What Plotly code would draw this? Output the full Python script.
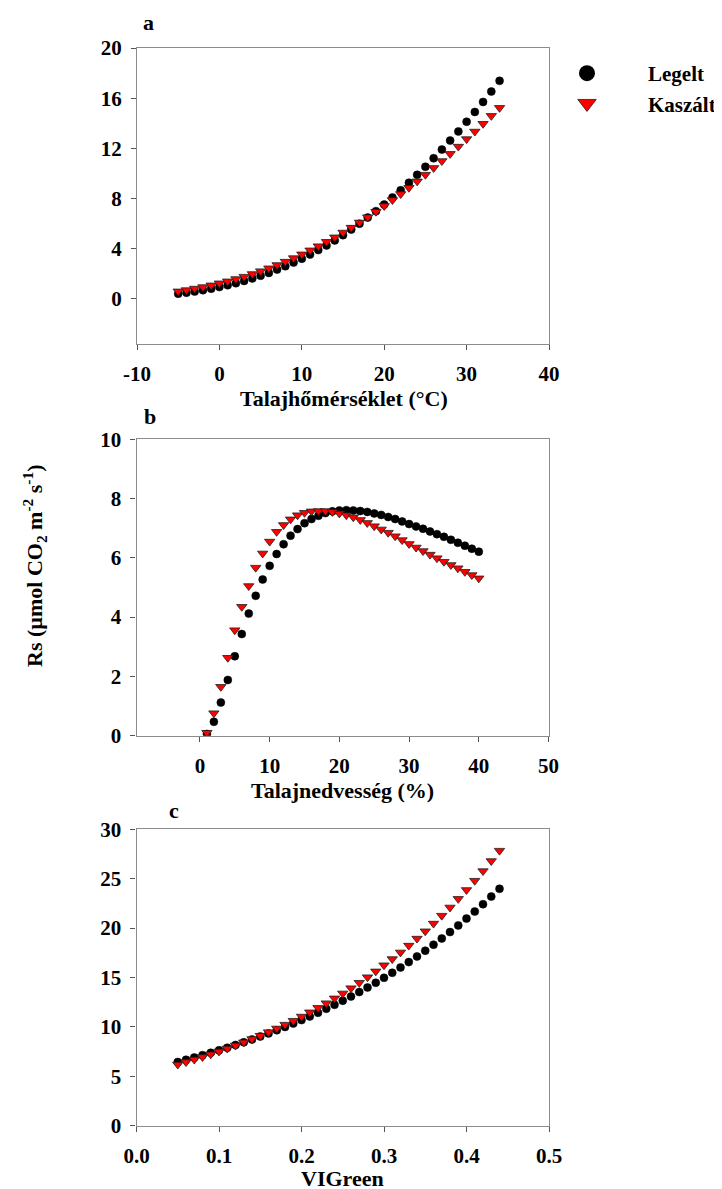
import plotly.graph_objects as go

# ---------------- data ----------------
temp_x = list(range(-5, 35))
temp_legelt = [0.41, 0.49, 0.58, 0.69, 0.81, 0.94, 1.09, 1.25, 1.43, 1.63,
               1.84, 2.07, 2.33, 2.60, 2.89, 3.20, 3.53, 3.89, 4.26, 4.66,
               5.08, 5.52, 5.99, 6.48, 6.99, 7.52, 8.08, 8.66, 9.26, 9.89,
               10.53, 11.21, 11.90, 12.62, 13.35, 14.12, 14.90, 15.70, 16.53, 17.38]
temp_kaszalt = [0.60, 0.70, 0.82, 0.94, 1.08, 1.24, 1.40, 1.58, 1.77, 1.98,
                2.21, 2.44, 2.70, 2.97, 3.25, 3.55, 3.87, 4.20, 4.55, 4.91,
                5.29, 5.68, 6.09, 6.51, 6.95, 7.41, 7.88, 8.36, 8.86, 9.37,
                9.90, 10.44, 10.99, 11.56, 12.14, 12.74, 13.34, 13.96, 14.59, 15.23]

moist_x = list(range(1, 41))
moist_legelt = [0.06, 0.47, 1.12, 1.88, 2.68, 3.43, 4.12, 4.72, 5.27, 5.73,
                6.13, 6.46, 6.75, 6.97, 7.17, 7.31, 7.42, 7.51, 7.57, 7.60,
                7.61, 7.60, 7.58, 7.55, 7.50, 7.45, 7.38, 7.31, 7.23, 7.14,
                7.06, 6.98, 6.89, 6.80, 6.71, 6.61, 6.51, 6.41, 6.31, 6.21]
moist_kaszalt = [0.10, 0.76, 1.65, 2.63, 3.56, 4.35, 5.05, 5.67, 6.15, 6.55,
                 6.88, 7.11, 7.30, 7.44, 7.52, 7.57, 7.58, 7.58, 7.55, 7.50,
                 7.44, 7.37, 7.28, 7.18, 7.07, 6.96, 6.85, 6.73, 6.60, 6.47,
                 6.35, 6.23, 6.11, 5.99, 5.87, 5.76, 5.65, 5.53, 5.42, 5.31]

vig_x = [round(0.05 + 0.01 * i, 2) for i in range(40)]
vig_legelt = [6.45, 6.67, 6.90, 7.14, 7.38, 7.63, 7.89, 8.17, 8.44, 8.73,
              9.03, 9.34, 9.66, 9.99, 10.34, 10.69, 11.06, 11.43, 11.83, 12.23,
              12.65, 13.08, 13.53, 13.99, 14.47, 14.97, 15.48, 16.01, 16.56, 17.13,
              17.71, 18.32, 18.95, 19.60, 20.27, 20.96, 21.68, 22.42, 23.19, 23.98]
vig_kaszalt = [6.20, 6.44, 6.70, 6.96, 7.23, 7.52, 7.81, 8.12, 8.44, 8.77,
               9.11, 9.47, 9.84, 10.23, 10.63, 11.05, 11.48, 11.93, 12.40, 12.89,
               13.39, 13.92, 14.47, 15.03, 15.62, 16.24, 16.87, 17.54, 18.23, 18.94,
               19.68, 20.46, 21.26, 22.09, 22.96, 23.86, 24.80, 25.77, 26.79, 27.84]

series_names = ["Legelt", "Kaszált"]
panel_letters = ["a", "b", "c"]
x_titles = ["Talajhőmérséklet (°C)", "Talajnedvesség (%)", "VIGreen"]
y_title = "Rs (µmol CO<sub>2</sub> m<sup>-2</sup> s<sup>-1</sup>)"

temp_ticks = [-10, 0, 10, 20, 30, 40]
temp_yticks = [0, 4, 8, 12, 16, 20]
moist_ticks = [0, 10, 20, 30, 40, 50]
moist_yticks = [0, 2, 4, 6, 8, 10]
vig_ticks = [0.0, 0.1, 0.2, 0.3, 0.4, 0.5]
vig_yticks = [0, 5, 10, 15, 20, 25, 30]

# ---------------- styling ----------------
W, H = 722, 1189
OFF = 8  # page body margin offset
FONT = "'Liberation Serif', 'Times New Roman', Times, 'DejaVu Serif', serif"
TICK_SIZE = 21
TITLE_SIZE = 22
circle_style = dict(symbol="circle", size=8, color="#000000",
                    line=dict(color="#000000", width=0.5))
tri_style = dict(symbol="triangle-down", size=9, color="#FF0000",
                 line=dict(color="#202020", width=0.8))

fig = go.Figure()

panels = [
    (temp_x, temp_legelt, temp_kaszalt, "x", "y"),
    (moist_x, moist_legelt, moist_kaszalt, "x2", "y2"),
    (vig_x, vig_legelt, vig_kaszalt, "x3", "y3"),
]
for xs, yl, yk, xa, ya in panels:
    fig.add_trace(go.Scatter(x=xs, y=yl, mode="markers", marker=circle_style,
                             xaxis=xa, yaxis=ya, showlegend=False))
    fig.add_trace(go.Scatter(x=xs, y=yk, mode="markers", marker=tri_style,
                             xaxis=xa, yaxis=ya, showlegend=False))

# legend-only traces with larger symbols
fig.add_trace(go.Scatter(x=[None], y=[None], mode="markers", name=series_names[0],
                         marker=dict(symbol="circle", size=16, color="#000000")))
fig.add_trace(go.Scatter(x=[None], y=[None], mode="markers", name=series_names[1],
                         marker=dict(symbol="triangle-down", size=16, color="#FF0000",
                                     line=dict(color="#202020", width=0.8))))


def px_x(p):
    return (p - OFF) / W


def px_y(p):
    return 1 - (p - OFF) / H


axis_common = dict(showline=True, linecolor="#8c8c8c", linewidth=1.2, mirror=True,
                   ticks="outside", ticklen=5, tickcolor="#555555", tickwidth=1,
                   showgrid=False, zeroline=False, automargin=False,
                   tickfont=dict(family=FONT, size=TICK_SIZE, color="#000000",
                                 weight="bold"))

fig.update_layout(
    width=W, height=H,
    margin=dict(l=0, r=0, t=0, b=0, pad=0, autoexpand=False),
    paper_bgcolor="white", plot_bgcolor="white",
    font=dict(family=FONT, color="#000000"),
    xaxis=dict(axis_common, domain=[px_x(137), px_x(549)], range=[-10, 40],
               tickvals=temp_ticks, ticktext=[str(v) for v in temp_ticks],
               anchor="y", ticklabelstandoff=6),
    yaxis=dict(axis_common, domain=[px_y(344), px_y(48)], range=[-3.6, 20],
               tickvals=temp_yticks, anchor="x", ticklabelstandoff=5),
    xaxis2=dict(axis_common, domain=[px_x(136.5), px_x(548.5)], range=[-9.1, 50],
                tickvals=moist_ticks, anchor="y2", ticklabelstandoff=6),
    yaxis2=dict(axis_common, domain=[px_y(735.7), px_y(439.3)], range=[0, 10],
                tickvals=moist_yticks, anchor="x2", ticklabelstandoff=5),
    xaxis3=dict(axis_common, domain=[px_x(136.5), px_x(549)], range=[0, 0.5],
                tickvals=vig_ticks, tickformat=".1f",
                anchor="y3", ticklabelstandoff=6),
    yaxis3=dict(axis_common, domain=[px_y(1125.7), px_y(829.3)], range=[0, 30],
                tickvals=vig_yticks, anchor="x3", ticklabelstandoff=5),
    legend=dict(x=px_x(526), y=px_y(53), xanchor="left", yanchor="top",
                bgcolor="rgba(0,0,0,0)", itemwidth=112, tracegroupgap=0,
                font=dict(family=FONT, size=21, color="#000000", weight="bold")),
    showlegend=True,
)

annots = []
for letter, (cx, cy) in zip(panel_letters, [(148, 22), (150, 416), (174, 810)]):
    annots.append(dict(text=letter, x=px_x(cx), y=px_y(cy), xref="paper", yref="paper",
                       showarrow=False, xanchor="center", yanchor="middle",
                       font=dict(family=FONT, size=TITLE_SIZE, color="#000000",
                                 weight="bold")))
for title, (cx, cy) in zip(x_titles, [(344, 398), (342.5, 790), (342.5, 1178)]):
    annots.append(dict(text=title, x=px_x(cx), y=px_y(cy), xref="paper", yref="paper",
                       showarrow=False, xanchor="center", yanchor="middle",
                       font=dict(family=FONT, size=TITLE_SIZE, color="#000000",
                                 weight="bold")))
annots.append(dict(text=y_title, x=px_x(34), y=px_y(566), xref="paper", yref="paper",
                   showarrow=False, xanchor="center", yanchor="middle", textangle=-90,
                   font=dict(family=FONT, size=TITLE_SIZE, color="#000000",
                             weight="bold")))
fig.update_layout(annotations=annots)

fig.write_html("out.html")
